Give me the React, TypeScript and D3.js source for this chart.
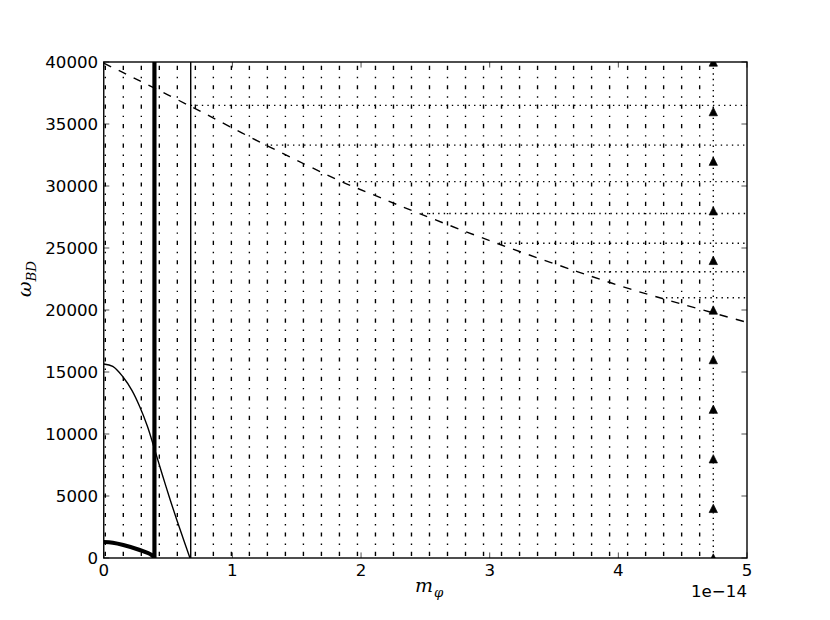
import React from "react";
import * as d3 from "d3";

// m_phi values are in units of 1e-14
const gridM = [
  0.012, 0.152, 0.292, 0.432, 0.572, 0.712, 0.852, 0.992, 1.132, 1.272, 1.412, 1.552,
  1.692, 1.832, 1.972, 2.112, 2.252, 2.392, 2.532, 2.672, 2.812, 2.952, 3.092, 3.232,
  3.372, 3.512, 3.652, 3.792, 3.932, 4.072, 4.212, 4.352, 4.492, 4.632,
];
const thickLineM = 0.394;
const thinLineM = 0.676;

const markerM = 4.738;
const markerW = [0, 4000, 8000, 12000, 16000, 20000, 24000, 28000, 32000, 36000, 40000];

const dashM = [0, 0.14, 0.68, 1.26, 1.85, 2.07, 2.46, 3.05, 3.68, 4.09, 4.52, 5.0];
const dashW = [39900, 39200, 36400, 33300, 30350, 29400, 27750, 25400, 23100, 21700, 20400, 19000];

const levelW = [36500, 33300, 30350, 27780, 25380, 23090, 20990];
const levelStartM = [0.676, 1.255, 1.86, 2.47, 3.07, 3.76, 4.37];

const thinM = [0, 0.07, 0.15, 0.22, 0.28, 0.34, 0.394, 0.45, 0.51, 0.57, 0.62, 0.67];
const thinW = [15650, 15450, 14600, 13500, 12200, 10600, 8800, 6900, 4900, 3000, 1500, 0];

const thickM = [0, 0.07, 0.152, 0.28, 0.373, 0.394];
const thickW = [1290, 1230, 1050, 650, 240, 0];

const xTicks = [0, 1, 2, 3, 4, 5];
const yTicks = [0, 5000, 10000, 15000, 20000, 25000, 30000, 35000, 40000];

const W = 830;
const H = 620;
const left = 103.75;
const right = 747;
const top = 62;
const bottom = 558;

const pt = 100 / 72; // figure was drawn at 100 dpi
const fs = 12 * pt;
const labelFs = 19;

// matplotlib '^' marker
const triangleUp = {
  draw(ctx: any, size: number) {
    const h = Math.sqrt(size) / 2;
    ctx.moveTo(0, -h);
    ctx.lineTo(-h, h);
    ctx.lineTo(h, h);
    ctx.closePath();
  },
};

export default function App() {
  const x = d3.scaleLinear().domain([0, 5]).range([left, right]);
  const y = d3.scaleLinear().domain([0, 40000]).range([bottom, top]);

  const line = d3
    .line<[number, number]>()
    .x((d) => x(d[0]))
    .y((d) => y(d[1]))
    .curve(d3.curveCatmullRom);

  const dashPath = line(dashM.map((m, i) => [m, dashW[i]]));
  const thinPath = line(thinM.map((m, i) => [m, thinW[i]]));
  const thickPath = line(thickM.map((m, i) => [m, thickW[i]]));
  const marker = d3.symbol().type(triangleUp).size(Math.pow(6 * pt, 2))();

  const dashDot = [3, 5, 1, 5].map((v) => v * pt).join(",");
  const dotted = [1, 3].map((v) => v * pt).join(",");
  const tickLen = 4 * pt;

  return (
    <svg
      width={W}
      height={H}
      style={{ position: "absolute", left: 0, top: 0, background: "#fff" }}
    >
      <defs>
        <clipPath id="plot">
          <rect x={left} y={top} width={right - left} height={bottom - top} />
        </clipPath>
      </defs>
      <rect x={0} y={0} width={W} height={H} fill="#fff" />

      <g clipPath="url(#plot)" fill="none" stroke="#000">
        {gridM.map((m, i) => (
          <line
            key={"g" + i}
            x1={x(m)}
            x2={x(m)}
            y1={y(0)}
            y2={y(40000)}
            strokeWidth={pt}
            strokeDasharray={dashDot}
            strokeDashoffset={-2}
          />
        ))}
        <line x1={x(thickLineM)} x2={x(thickLineM)} y1={y(0)} y2={y(40000)} strokeWidth={3 * pt} />
        <line x1={x(thinLineM)} x2={x(thinLineM)} y1={y(0)} y2={y(40000)} strokeWidth={pt} />
        <path d={dashPath ?? ""} strokeWidth={pt} strokeDasharray={[6 * pt, 6 * pt].join(",")} />
        {levelW.map((w, i) => (
          <line
            key={"l" + i}
            x1={x(levelStartM[i])}
            x2={x(5)}
            y1={y(w)}
            y2={y(w)}
            strokeWidth={pt}
            strokeDasharray={dotted}
          />
        ))}
        <path d={thinPath ?? ""} strokeWidth={pt} />
        <path d={thickPath ?? ""} strokeWidth={3 * pt} />
        <line
          x1={x(markerM)}
          x2={x(markerM)}
          y1={y(markerW[0])}
          y2={y(markerW[markerW.length - 1])}
          strokeWidth={pt}
          strokeDasharray={dotted}
        />
        {markerW.map((w, i) => (
          <path
            key={"m" + i}
            d={marker ?? ""}
            transform={`translate(${x(markerM)},${y(w)})`}
            fill="#000"
            strokeWidth={0.5 * pt}
          />
        ))}
      </g>

      <g stroke="#000" strokeWidth={0.5 * pt}>
        {xTicks.map((t) => (
          <g key={"xt" + t}>
            <line x1={x(t)} x2={x(t)} y1={bottom} y2={bottom - tickLen} />
            <line x1={x(t)} x2={x(t)} y1={top} y2={top + tickLen} />
          </g>
        ))}
        {yTicks.map((t) => (
          <g key={"yt" + t}>
            <line x1={left} x2={left + tickLen} y1={y(t)} y2={y(t)} />
            <line x1={right} x2={right - tickLen} y1={y(t)} y2={y(t)} />
          </g>
        ))}
      </g>

      <rect
        x={left}
        y={top}
        width={right - left}
        height={bottom - top}
        fill="none"
        stroke="#000"
        strokeWidth={pt}
      />

      <g fontFamily="DejaVu Sans" fontSize={fs} fill="#000">
        {xTicks.map((t) => (
          <text key={"xl" + t} x={x(t)} y={bottom + 4 * pt + 0.73 * fs} textAnchor="middle">
            {t}
          </text>
        ))}
        {yTicks.map((t) => (
          <text key={"yl" + t} x={left - 4 * pt} y={y(t) + 0.365 * fs} textAnchor="end">
            {t}
          </text>
        ))}
        <text x={right} y={597} textAnchor="end">
          1e−14
        </text>
      </g>

      <g fontFamily="DejaVu Serif" fontStyle="italic" fill="#000">
        <text x={415} y={592} fontSize={labelFs}>
          m
          <tspan dx={1} dy={5} fontSize={labelFs * 0.7}>
            φ
          </tspan>
        </text>
        <text transform="translate(31,297) rotate(-90)" fontSize={labelFs}>
          ω
          <tspan dy={5} fontSize={labelFs * 0.7}>
            BD
          </tspan>
        </text>
      </g>
    </svg>
  );
}
